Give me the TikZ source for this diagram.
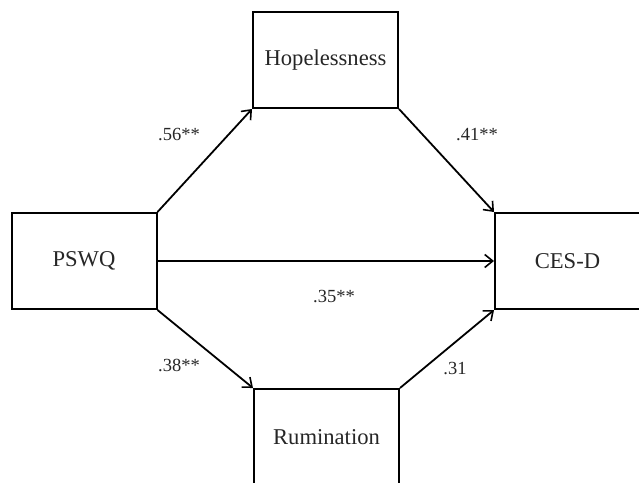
\documentclass[tikz,border=0pt]{standalone}
\usepackage{fontspec}
\setmainfont{Liberation Serif}
\usetikzlibrary{arrows.meta}
\begin{document}
\begin{tikzpicture}[x=1pt,y=-1pt,
  boxnode/.style={draw=black, line width=2pt, minimum width=145pt, minimum height=96pt, inner sep=0pt, font=\fontsize{22.6}{26}\selectfont, text=black!85},
  conn/.style={line width=1.8pt, -{Straight Barb[length=8pt,width=13pt,line width=1.6pt]}},
  lbl/.style={font=\fontsize{18.5}{22}\selectfont, text=black!85}]
\useasboundingbox (0,0) rectangle (639,482);
\clip (0,0) rectangle (639,482);
\node[boxnode] (h) at (325.5,60) {Hopelessness};
\node[boxnode] (p) at (84,261) {PSWQ};
\node[boxnode] (c) at (567.5,261) {CES-D};
\node[boxnode] (r) at (326.5,437) {Rumination};
\draw[conn] (p.north east) -- (h.south west);
\draw[conn] (h.south east) -- (c.north west);
\draw[conn] (p.east) -- (c.west);
\draw[conn] (p.south east) -- (r.north west);
\draw[conn] (r.north east) -- (c.south west);
\node[lbl] (l1) at (179,135) {.56**};
\node[lbl] (l2) at (477,135) {.41**};
\node[lbl] (l3) at (334,297) {.35**};
\node[lbl] (l4) at (179,365) {.38**};
\node[lbl] (l5) at (455,368) {.31};
\end{tikzpicture}
\end{document}
